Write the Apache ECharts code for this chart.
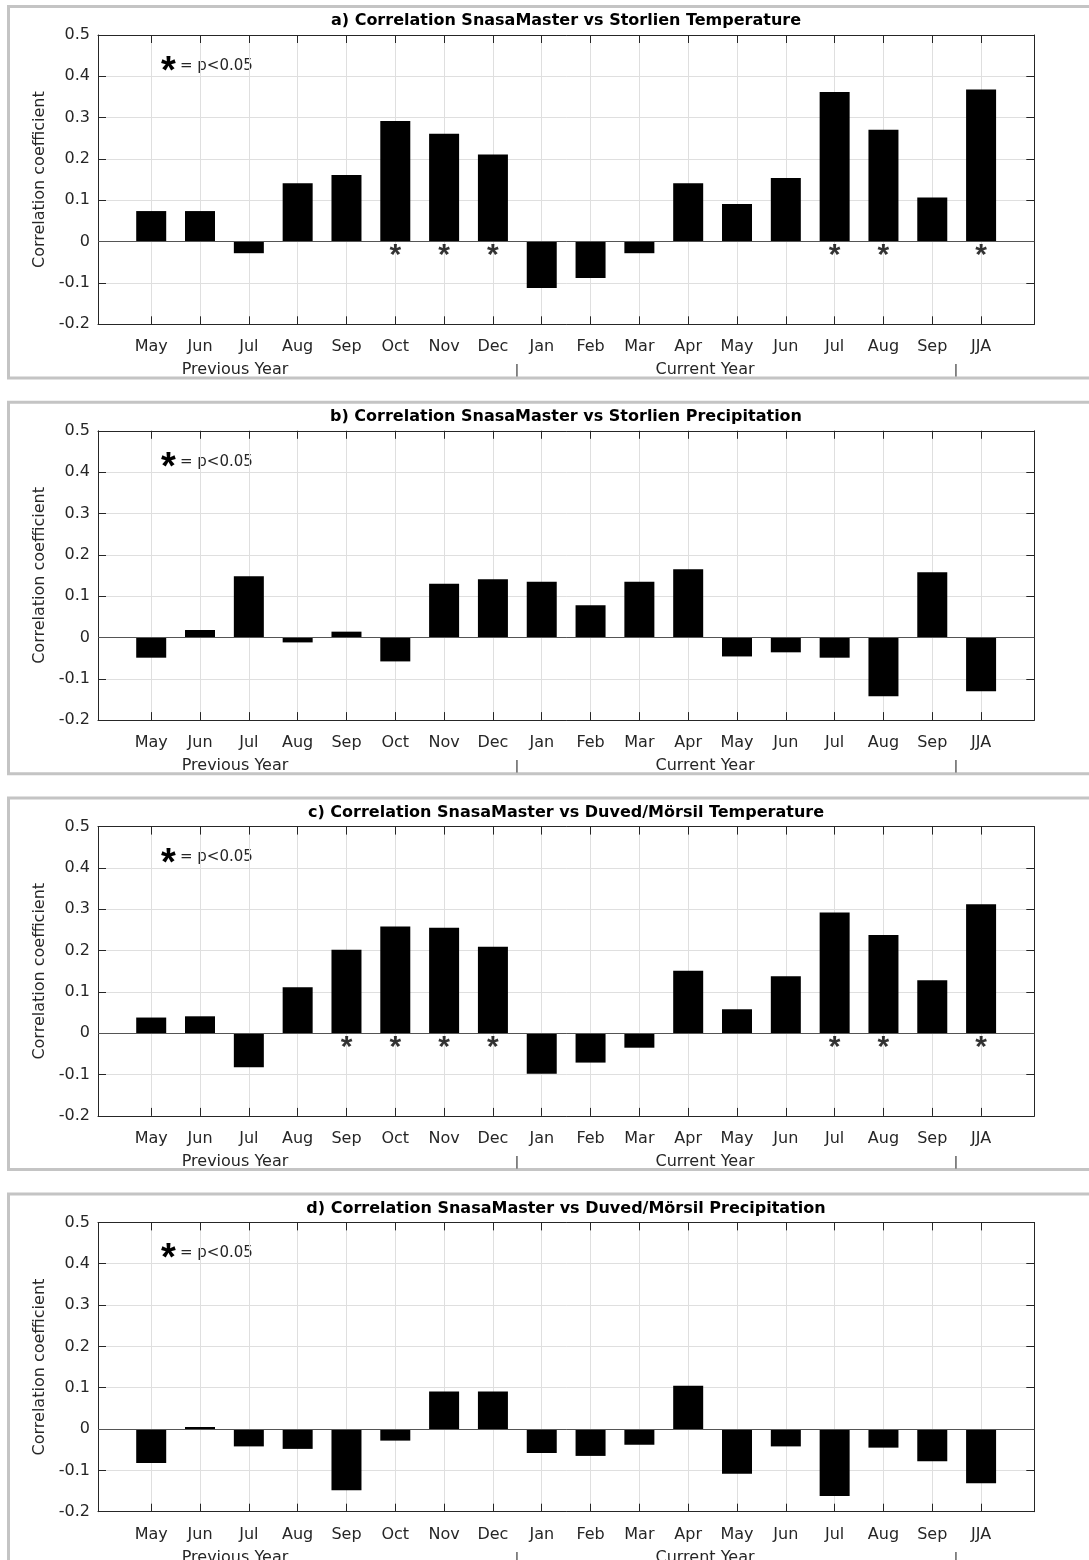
<!DOCTYPE html>
<html><head><meta charset="utf-8">
<script src="https://cdn.jsdelivr.net/npm/echarts@6/dist/echarts.min.js"></script>
<style>html,body{margin:0;padding:0;background:#fff}#c{width:1089px;height:1560px}</style>
</head><body><div id="c"></div>
<script>
// ---------- DATA ----------
const months = ['May','Jun','Jul','Aug','Sep','Oct','Nov','Dec','Jan','Feb','Mar','Apr','May','Jun','Jul','Aug','Sep','JJA'];
const titles = [
  'a) Correlation SnasaMaster vs Storlien Temperature',
  'b) Correlation SnasaMaster vs Storlien Precipitation',
  'c) Correlation SnasaMaster vs Duved/M\u00f6rsil Temperature',
  'd) Correlation SnasaMaster vs Duved/M\u00f6rsil Precipitation'
];
const storlienTemp = [0.074,0.074,-0.028,0.141,0.161,0.292,0.261,0.211,-0.112,-0.088,-0.028,0.141,0.091,0.154,0.362,0.271,0.107,0.368];
const storlienPrec = [-0.049,0.018,0.148,-0.012,0.014,-0.058,0.130,0.141,0.135,0.078,0.135,0.165,-0.046,-0.036,-0.049,-0.142,0.158,-0.130];
const duvedTemp    = [0.038,0.041,-0.082,0.111,0.202,0.258,0.255,0.209,-0.098,-0.071,-0.035,0.151,0.058,0.138,0.292,0.238,0.128,0.312];
const duvedPrec    = [-0.082,0.005,-0.042,-0.048,-0.148,-0.028,0.091,0.091,-0.058,-0.065,-0.038,0.105,-0.108,-0.042,-0.162,-0.045,-0.078,-0.131];
const sigStorlienTemp = [0,0,0,0,0,1,1,1,0,0,0,0,0,0,1,1,0,1];
const sigStorlienPrec = [0,0,0,0,0,0,0,0,0,0,0,0,0,0,0,0,0,0];
const sigDuvedTemp    = [0,0,0,0,1,1,1,1,0,0,0,0,0,0,1,1,0,1];
const sigDuvedPrec    = [0,0,0,0,0,0,0,0,0,0,0,0,0,0,0,0,0,0];
const periodLabels = ['Previous Year','Current Year'];
const legendText = '= p<0.05';
const yLabel = 'Correlation coefficient';

// ---------- LAYOUT ----------
const panels = [
  {title:titles[0], values:storlienTemp, sig:sigStorlienTemp},
  {title:titles[1], values:storlienPrec, sig:sigStorlienPrec},
  {title:titles[2], values:duvedTemp, sig:sigDuvedTemp},
  {title:titles[3], values:duvedPrec, sig:sigDuvedPrec}
];
const FONT = '"DejaVu Sans", sans-serif';
const STARFONT = '"Liberation Sans", Arial, sans-serif';
const STEP = 395.8, TOP0 = 35, GH = 289.3, GL = 98, GR = 54.7;
const XMIN = -0.09, XMAX = 19.09;
const STAR_Y = -0.034;
const xTickVals = months.map((m,i)=>i+1);
const dark = '#262626';

const chart = echarts.init(document.getElementById('c'), null, {renderer:'canvas'});
const grid=[], xAxis=[], yAxis=[], series=[], graphic=[];

panels.forEach((p,k)=>{
  const top = TOP0 + STEP*k;
  grid.push({left:GL, right:GR, top:top, height:GH, containLabel:false});
  const line = {show:true, onZero:false, lineStyle:{color:dark, width:1}};
  const xtick = {show:true, inside:true, length:8, lineStyle:{color:dark}, customValues:xTickVals};
  const ytick = {show:true, inside:true, length:8, lineStyle:{color:dark}};
  xAxis.push({gridIndex:k, type:'value', position:'bottom', min:XMIN, max:XMAX,
    axisLine:line, axisTick:xtick,
    splitLine:{show:true, lineStyle:{color:'#dfdfdf', width:1}},
    axisLabel:{show:true, customValues:xTickVals, formatter:v=>months[Math.round(v)-1]||'',
      margin:15, fontFamily:FONT, fontSize:16, color:dark}});
  xAxis.push({gridIndex:k, type:'value', position:'top', min:XMIN, max:XMAX,
    axisLine:line, axisTick:xtick, splitLine:{show:false}, axisLabel:{show:false}});
  yAxis.push({gridIndex:k, type:'value', position:'left', min:-0.2, max:0.5, interval:0.1,
    axisLine:line, axisTick:ytick,
    splitLine:{show:true, lineStyle:{color:'#dfdfdf', width:1}},
    axisLabel:{formatter:v=>String(Math.round(v*10)/10), margin:8, fontFamily:FONT, fontSize:16, color:dark},
    name:yLabel, nameLocation:'middle', nameGap:42,
    nameTextStyle:{fontFamily:FONT, fontSize:16, color:dark}});
  yAxis.push({gridIndex:k, type:'value', position:'right', min:-0.2, max:0.5, interval:0.1,
    axisLine:line, axisTick:ytick, splitLine:{show:false}, axisLabel:{show:false}});

  series.push({type:'bar', xAxisIndex:2*k, yAxisIndex:2*k, barWidth:30,
    data:p.values.map((v,i)=>[i+1,v]),
    itemStyle:{color:'#000'},
    markLine:{silent:true, symbol:'none', label:{show:false},
      lineStyle:{color:'#555', width:1, type:'solid'}, data:[{yAxis:0}]}});
  const stars = [];
  p.sig.forEach((s,i)=>{ if(s) stars.push([i+1, STAR_Y]); });
  if (stars.length) series.push({type:'scatter', xAxisIndex:2*k, yAxisIndex:2*k, z:5,
    data:stars, symbol:'circle', symbolSize:1, itemStyle:{color:'rgba(0,0,0,0)'},
    label:{show:true, position:'inside', formatter:'*', fontFamily:STARFONT,
      fontWeight:'bold', fontSize:30, color:'#000'}});

  // panel frame
  graphic.push({type:'rect', z:-10, shape:{x:8.5, y:top-28.5, width:1200, height:371.5},
    style:{fill:'none', stroke:'#c4c4c4', lineWidth:3}});
  // title
  graphic.push({type:'text', x:566, y:top-14, style:{text:p.title, font:'bold 16px '+FONT,
    fill:'#000', align:'center', verticalAlign:'middle'}});
  // legend
  graphic.push({type:'text', x:168.5, y:top+37.5, style:{text:'*', font:'bold 38px '+STARFONT,
    fill:'#000', align:'center', verticalAlign:'middle'}});
  graphic.push({type:'text', x:180, y:top+31, style:{text:legendText, font:'15px '+FONT,
    fill:dark, align:'left', verticalAlign:'middle'}});
  // period labels
  graphic.push({type:'text', x:235, y:top+335, style:{text:periodLabels[0], font:'16px '+FONT, fill:dark, align:'center', verticalAlign:'middle'}});
  graphic.push({type:'text', x:705, y:top+335, style:{text:periodLabels[1], font:'16px '+FONT, fill:dark, align:'center', verticalAlign:'middle'}});
  graphic.push({type:'text', x:517, y:top+336, style:{text:'|', font:'13px '+FONT, fill:dark, align:'center', verticalAlign:'middle'}});
  graphic.push({type:'text', x:956, y:top+336, style:{text:'|', font:'13px '+FONT, fill:dark, align:'center', verticalAlign:'middle'}});
});

chart.setOption({animation:false, backgroundColor:'#fff', grid, xAxis, yAxis, series, graphic});
</script>
</body></html>
